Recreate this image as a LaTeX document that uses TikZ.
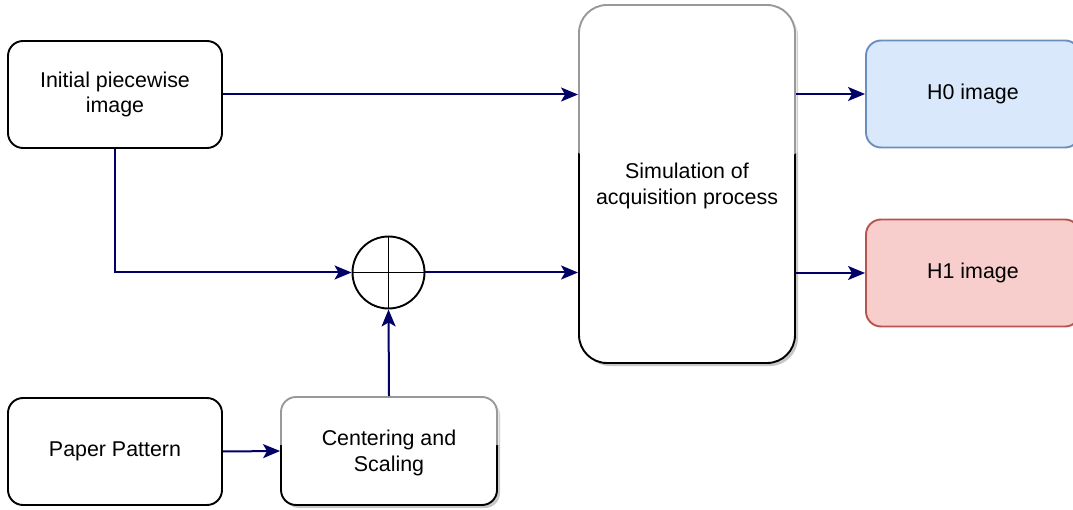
\documentclass[tikz,border=0pt]{standalone}
\usepackage{fontspec}
\setmainfont{Liberation Sans}
\usetikzlibrary{arrows.meta,calc}
\definecolor{navy}{HTML}{000066}
\definecolor{bluefill}{HTML}{DAE8FC}
\definecolor{bluedraw}{HTML}{6C8EBF}
\definecolor{redfill}{HTML}{F8CECC}
\definecolor{reddraw}{HTML}{B85450}
\begin{document}
\begin{tikzpicture}[x=1pt,y=-1pt,
  txt/.style={font=\fontsize{21.4}{25.7}\selectfont, align=center, text=black},
  box/.style={draw=black, line width=1.9pt, rounded corners=15pt, fill=white,
    minimum width=214pt, minimum height=107pt, inner sep=0pt, txt},
  shadowed/.style={preaction={fill=black, opacity=0.22, draw=none,
    transform canvas={xshift=3pt,yshift=-3pt}}},
  gloss/.style={fill=white, opacity=0.6},
  link/.style={draw=navy, line width=2pt,
    -{Stealth[length=17pt,width=14pt,inset=4pt]}}]
\clip (0,0) rectangle (1073,510);
\fill[white] (0,0) rectangle (1073,510);

% nodes
\node[box] (init) at (115,94.5) {Initial piecewise\\image};
\node[box] (paper) at (115,451.5) {Paper Pattern};
\node[box, shadowed, minimum width=216pt, minimum height=108pt] (cent) at (389,451) {};
\node[box, shadowed, minimum width=216pt, minimum height=358pt, rounded corners=28pt] (sim) at (687,184) {};
\node[box, draw=bluedraw, fill=bluefill] (h0) at (973,94) {H0 image};
\node[box, draw=reddraw, fill=redfill] (h1) at (973,273) {H1 image};
\node[circle, draw=black, line width=1.9pt, fill=white, minimum size=72pt, inner sep=0pt] (sum) at (388.5,272.5) {};
\draw[black, line width=1.9pt] (sum.north) -- (sum.south) (sum.west) -- (sum.east);

% glossy overlays
\begin{scope}
  \clip[rounded corners=28pt] ($(sim.south west)+(-1.5,1.5)$) rectangle ($(sim.north east)+(1.5,-1.5)$);
  \fill[gloss] (575,0) -- (575,150) .. controls (625,192) and (750,192) .. (800,150) -- (800,0) -- cycle;
\end{scope}
\begin{scope}
  \clip[rounded corners=15pt] ($(cent.south west)+(-1.5,1.5)$) rectangle ($(cent.north east)+(1.5,-1.5)$);
  \fill[gloss] (276,390) -- (276,444) .. controls (330,456) and (448,456) .. (502,444) -- (502,390) -- cycle;
\end{scope}

% labels of glossy boxes
\node[txt, yshift=-2pt] (simtext) at (sim.center) {Simulation of\\acquisition process};
\node[txt, yshift=-2pt] (centtext) at (cent.center) {Centering and\\Scaling};

% connectors
\draw[link] (init.east) -- (init.east -| sim.west);
\draw[link] (init.south) |- (sum.west);
\draw[link] (sum.east) -- (sum.east -| sim.west);
\draw[link] (cent.north) -- (sum.south);
\draw[link] (paper.east) -- (cent.west);
\draw[link] (sim.east |- h0.west) -- (h0.west);
\draw[link] (sim.east |- h1.west) -- (h1.west);
\end{tikzpicture}
\end{document}
